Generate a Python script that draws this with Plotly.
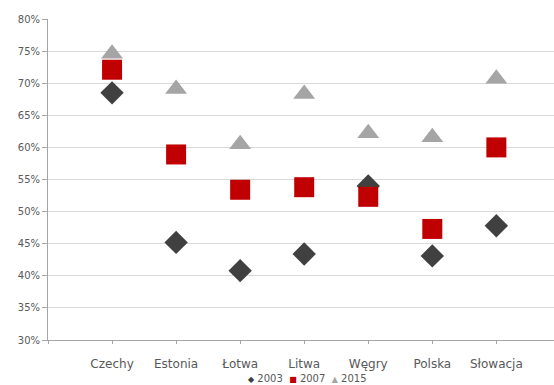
import plotly.graph_objects as go

countries = ["Czechy", "Estonia", "Łotwa", "Litwa", "Węgry", "Polska", "Słowacja"]
y2003 = [0.685, 0.452, 0.408, 0.434, 0.540, 0.431, 0.478]
y2007 = [0.721, 0.589, 0.534, 0.538, 0.523, 0.473, 0.600]
y2015 = [0.746, 0.691, 0.605, 0.683, 0.622, 0.616, 0.707]
series_names = ["2003", "2007", "2015"]

xpos = list(range(1, len(countries) + 1))
colors = ["#404040", "#C00000", "#A5A5A5"]
symbols = ["diamond", "square", "triangle-up"]
glyphs = ["◆", "■", "▲"]
sizes = [18, 20, 19]
font_family = "DejaVu Sans"

fig = go.Figure()
for name, vals, c, s, sz in zip(series_names, [y2003, y2007, y2015], colors, symbols, sizes):
    fig.add_trace(go.Scatter(x=xpos, y=vals, mode="markers", name=name,
                             marker=dict(color=c, symbol=s, size=sz, line=dict(width=0)),
                             showlegend=False))

legend_text = "&nbsp;&nbsp;".join(
    f"<span style='color:{c};font-size:8px'>{g}</span>&nbsp;{n}"
    for g, c, n in zip(glyphs, colors, series_names)
)
fig.add_annotation(text=legend_text, xref="paper", yref="paper", x=0.512, y=-0.121,
                   xanchor="center", yanchor="middle", showarrow=False,
                   font=dict(size=10, color="#595959", family=font_family))

fig.update_layout(
    width=554, height=385,
    margin=dict(l=48, r=0, t=19, b=45, autoexpand=False),
    paper_bgcolor="white", plot_bgcolor="white",
    font=dict(family=font_family, color="#595959", size=11),
    showlegend=False,
    xaxis=dict(range=[0, 7.9], tickvals=[0] + xpos, ticktext=[""] + countries,
               showgrid=False, zeroline=False, showline=True, linecolor="#A6A6A6",
               linewidth=1, ticks="outside", ticklen=3, tickcolor="#A6A6A6",
               tickfont=dict(size=12, color="#595959"), ticklabelstandoff=10),
    yaxis=dict(range=[0.30, 0.80], dtick=0.05, tickformat=".0%",
               showgrid=True, gridcolor="#D9D9D9", gridwidth=1, zeroline=False,
               showline=True, linecolor="#A6A6A6", linewidth=1,
               ticks="outside", ticklen=5, tickcolor="#A6A6A6",
               tickfont=dict(size=10, color="#595959")),
)

fig.write_html("out.html")
